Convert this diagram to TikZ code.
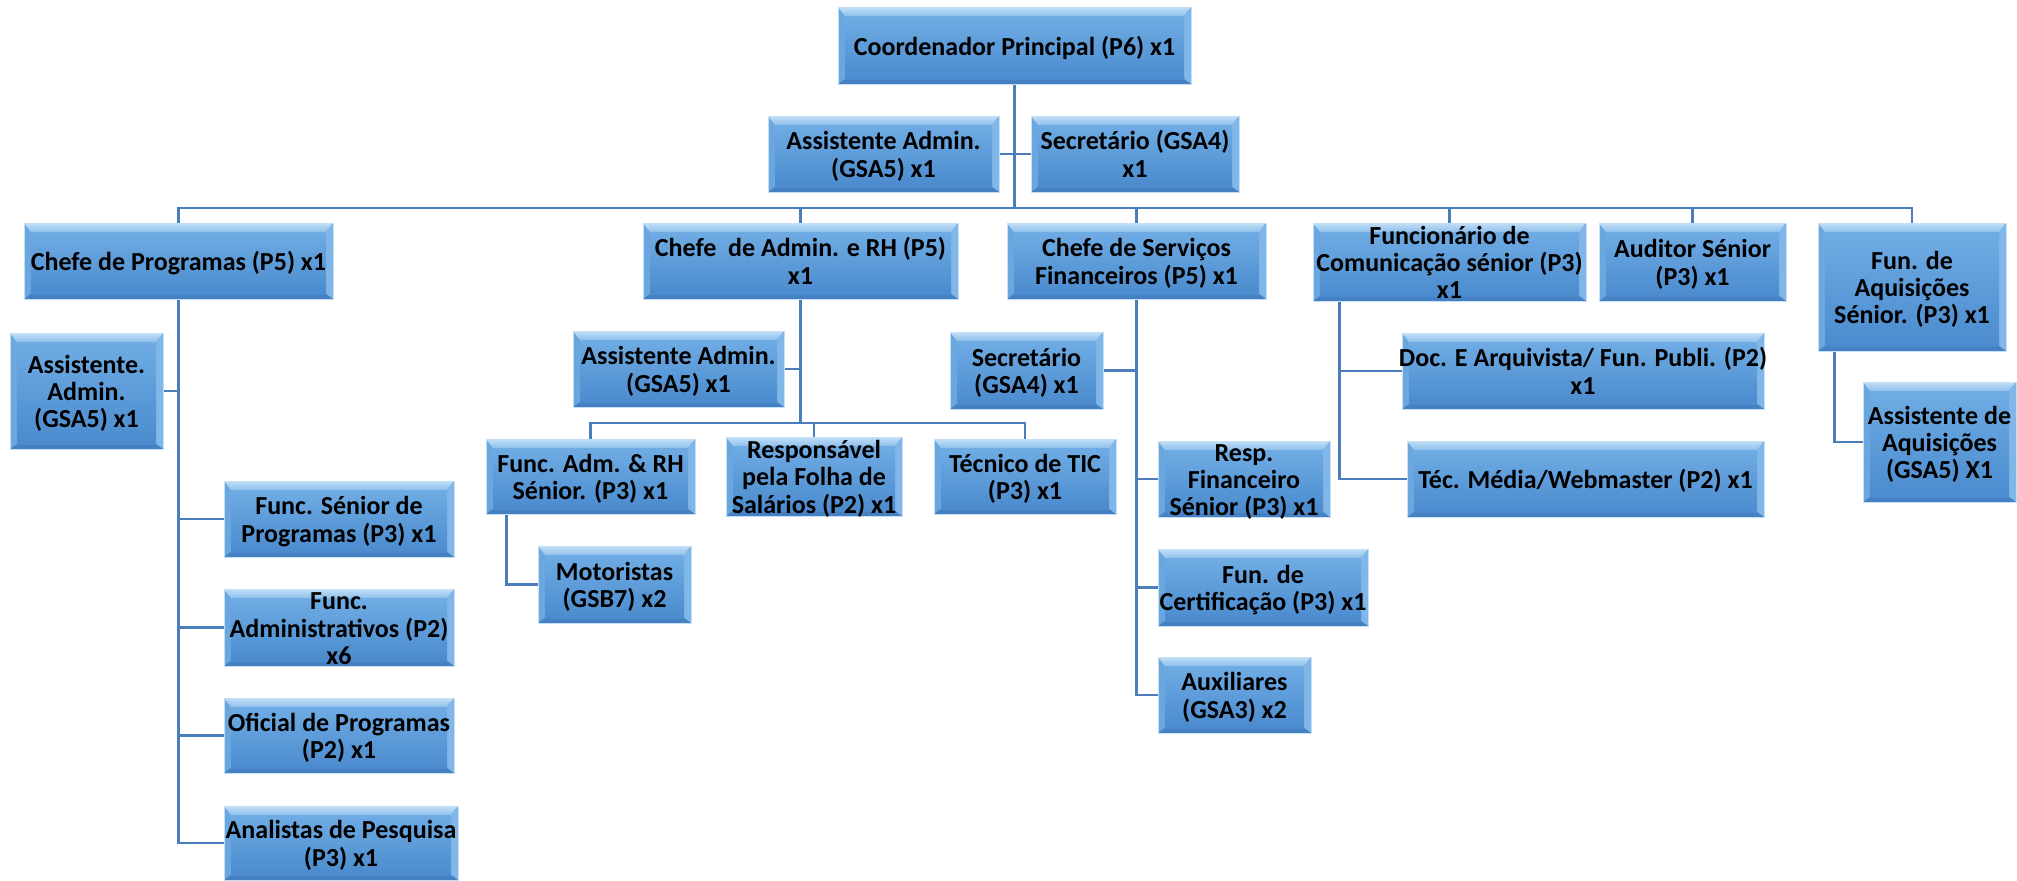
\documentclass[tikz,border=0pt]{standalone}
\usepackage{fontspec}
\setmainfont{Carlito}
\usetikzlibrary{calc}
\definecolor{bxmid}{HTML}{5B9BD5}
\definecolor{bvtopa}{HTML}{C2DEF6}
\definecolor{bvtopb}{HTML}{8DC0EC}
\definecolor{bvleft}{HTML}{6AA7DF}
\definecolor{bvright}{HTML}{80B7E8}
\definecolor{bvbot}{HTML}{4580C2}
\definecolor{intop}{HTML}{6FACE4}
\definecolor{inbot}{HTML}{4B8BCE}
\definecolor{bxedge}{HTML}{C4DFF6}
\definecolor{lineblue}{HTML}{4A7EBB}
\pgfdeclarelayer{bg}
\pgfsetlayers{bg,main}
\tikzset{
  obx/.style={fill=bxmid, draw=bxedge, line width=0.4pt, inner sep=0pt,
    text height=10pt, text depth=0pt,
    font=\bfseries\fontsize{13}{13.7}\selectfont, text=black,
    path picture={
      \coordinate (bbA) at (path picture bounding box.south west);
      \coordinate (bbB) at (path picture bounding box.south east);
      \coordinate (bbC) at (path picture bounding box.north east);
      \coordinate (bbD) at (path picture bounding box.north west);
      \coordinate (qqA) at ([shift={(3.5pt,2.5pt)}]bbA);
      \coordinate (qqB) at ([shift={(-3.5pt,2.5pt)}]bbB);
      \coordinate (qqC) at ([shift={(-3.5pt,-4.5pt)}]bbC);
      \coordinate (qqD) at ([shift={(3.5pt,-4.5pt)}]bbD);
      \fill[bvleft] (bbA) rectangle (bbC);
      \shade[top color=bvtopa, bottom color=bvtopb] (bbD) -- (bbC) -- (qqC) -- (qqD) -- cycle;
      \fill[bvright] (bbC) -- (bbB) -- (qqB) -- (qqC) -- cycle;
      \fill[bvbot] (bbB) -- (bbA) -- (qqA) -- (qqB) -- cycle;
      \shade[top color=intop, bottom color=inbot] (qqA) rectangle (qqC);
    }},
  conn/.style={draw=lineblue, line width=1.3pt}
}
\newcommand\obox[6]{\node[obx, minimum width={(#4-#2)*0.5pt}, minimum height={(#5-#3)*0.5pt}] (#1) at ({(#2+#4)/2},{(#3+#5)/2}) {\makebox[0pt]{\begin{tabular}{@{}c@{}}#6\end{tabular}}};}
\begin{document}
\begin{tikzpicture}[x=0.5pt, y=-0.5pt]
\useasboundingbox (0,0) rectangle (2017,880);
% top level
\obox{coord}{838}{7}{1191}{84}{Coordenador Principal (P6) x1}
\obox{asA}{768}{116}{999}{192}{Assistente Admin.\\(GSA5) x1}
\obox{sec}{1031}{116}{1239}{192}{Secretário (GSA4)\\x1}
% chiefs
\obox{chProg}{24}{223}{333}{299}{Chefe de Programas (P5) x1}
\obox{chAdm}{643}{223}{958}{299}{Chefe\ \ de Admin. e RH (P5)\\x1}
\obox{chFin}{1007}{223}{1266}{299}{Chefe de Serviços\\Financeiros (P5) x1}
\obox{chCom}{1313}{223}{1586}{301}{Funcionário de\\Comunicação sénior (P3)\\x1}
\obox{chAud}{1599}{223}{1786}{301}{Auditor Sénior\\(P3) x1}
\obox{chAq}{1818}{223}{2006}{351}{Fun. de\\Aquisições\\Sénior. (P3) x1}
% programas
\obox{pAs}{10}{333}{163}{449}{Assistente.\\Admin.\\(GSA5) x1}
\obox{p1}{224}{481}{454}{557}{Func. Sénior de\\Programas (P3) x1}
\obox{p2}{224}{589}{454}{666}{Func.\\Administrativos (P2)\\x6}
\obox{p3}{224}{698}{454}{773}{Oficial de Programas\\(P2) x1}
\obox{p4}{224}{806}{458}{880}{Analistas de Pesquisa\\(P3) x1}
% admin
\obox{aA}{573}{331}{784}{407}{Assistente Admin.\\(GSA5) x1}
\obox{fa}{486}{439}{695}{514}{Func. Adm. \& RH\\Sénior. (P3) x1}
\obox{resp}{726}{437}{902}{516}{Responsável\\pela Folha de\\Salários (P2) x1}
\obox{tic}{934}{439}{1116}{514}{Técnico de TIC\\(P3) x1}
\obox{mot}{538}{546}{691}{623}{Motoristas\\(GSB7) x2}
% financeiros
\obox{fsec}{950}{332}{1103}{409}{Secretário\\(GSA4) x1}
\obox{rf}{1158}{441}{1330}{517}{Resp.\\Financeiro\\Sénior (P3) x1}
\obox{cert}{1158}{549}{1368}{626}{Fun. de\\Certificação (P3) x1}
\obox{aux}{1158}{657}{1311}{733}{Auxiliares\\(GSA3) x2}
% comunicacao
\obox{doc}{1402}{333}{1764}{409}{Doc. E Arquivista/ Fun. Publi. (P2)\\x1}
\obox{med}{1407}{441}{1764}{517}{Téc. Média/Webmaster (P2) x1}
% aquisicoes
\obox{asAq}{1863}{382}{2016}{502}{Assistente de\\Aquisições\\(GSA5) X1}
\coordinate (bus) at (0,208);
\coordinate (subbus) at (0,423);
\coordinate (comT) at ([xshift=13.5pt]chCom.south west);
\coordinate (aqT) at ([xshift=8.5pt]chAq.south west);
\coordinate (faT) at ([xshift=10.5pt]fa.south west);
\begin{pgfonlayer}{bg}
\draw[conn] (coord.south) -- (coord.south |- bus);
\draw[conn] (asA.east) -- (asA.east -| coord.south);
\draw[conn] (sec.west) -- (sec.west -| coord.south);
\draw[conn] (chProg.north) -- (chProg.north |- bus) -- (chAq.north |- bus) -- (chAq.north);
\draw[conn] (chAdm.north) -- (chAdm.north |- bus);
\draw[conn] (chFin.north) -- (chFin.north |- bus);
\draw[conn] (chCom.north) -- (chCom.north |- bus);
\draw[conn] (chAud.north) -- (chAud.north |- bus);
% programas
\draw[conn] (chProg.south) |- (p4.west);
\draw[conn] (pAs.east) -- (pAs.east -| chProg.south);
\draw[conn] (p1.west) -- (p1.west -| chProg.south);
\draw[conn] (p2.west) -- (p2.west -| chProg.south);
\draw[conn] (p3.west) -- (p3.west -| chProg.south);
% admin
\draw[conn] (chAdm.south) -- (chAdm.south |- subbus);
\draw[conn] (aA.east) -- (aA.east -| chAdm.south);
\draw[conn] (fa.north) -- (fa.north |- subbus) -- (tic.north |- subbus) -- (tic.north);
\draw[conn] (resp.north) -- (resp.north |- subbus);
\draw[conn] (faT) |- (mot.west);
% financeiros
\draw[conn] (chFin.south) |- (aux.west);
\draw[conn] (fsec.east) -- (fsec.east -| chFin.south);
\draw[conn] (rf.west) -- (rf.west -| chFin.south);
\draw[conn] (cert.west) -- (cert.west -| chFin.south);
% comunicacao
\draw[conn] (comT) |- (med.west);
\draw[conn] (doc.west) -- (doc.west -| comT);
% aquisicoes
\draw[conn] (aqT) |- (asAq.west);
\end{pgfonlayer}
\end{tikzpicture}
\end{document}
